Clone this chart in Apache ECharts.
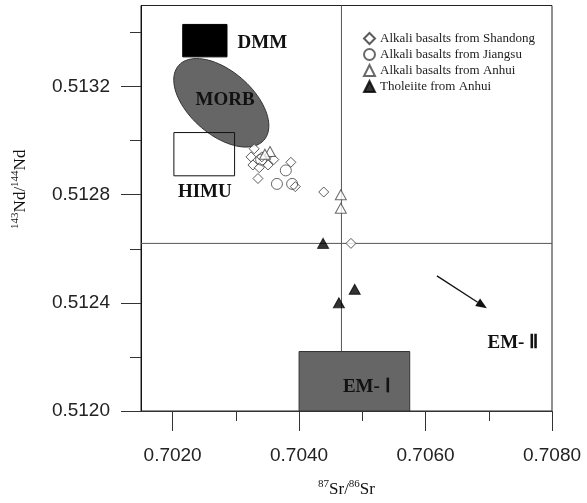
<!DOCTYPE html>
<html><head><meta charset="utf-8">
<script src="https://cdn.jsdelivr.net/npm/echarts@6/dist/echarts.min.js"></script>
<style>html,body{margin:0;padding:0;background:#fff}#c{width:587px;height:503px}</style>
</head><body><div id="c"></div>
<script>
// ---- axis ranges and ticks ----
const xRange = [0.7015, 0.7080];
const yRange = [0.5120, 0.5135];
const xTicksMajor = [0.7020, 0.7040, 0.7060, 0.7080];
const xTicksMinor = [0.7030, 0.7050, 0.7070];
const yTicksMajor = [0.5120, 0.5124, 0.5128, 0.5132];
const yTicksMinor = [0.5122, 0.5126, 0.5130, 0.5134];

// ---- samples [87Sr/86Sr, 143Nd/144Nd] ----
const shandong = [
  [0.70329, 0.51297], [0.70324, 0.51294], [0.70327, 0.51291], [0.70337, 0.51290],
  [0.70351, 0.51291], [0.70360, 0.51293], [0.70335, 0.51286], [0.70387, 0.51292],
  [0.70394, 0.51283], [0.70439, 0.51281], [0.70482, 0.51262], [0.70341, 0.51294]
];
const jiangsu = [[0.70340, 0.51293], [0.70379, 0.51289], [0.70365, 0.51284], [0.70389, 0.51284]];
const anhuiAlkali = [[0.70354, 0.51296], [0.70346, 0.51295], [0.70466, 0.51280], [0.70466, 0.51275]];
const anhuiTholeiite = [[0.70438, 0.51262], [0.70488, 0.51245], [0.70463, 0.51240]];

// ---- reservoir fields ----
const dmmBox = [0.70216, 0.51331, 0.70286, 0.51343];
const himuBox = [0.70202, 0.51287, 0.70298, 0.51303];
const em1Box = [0.70400, 0.51200, 0.70575, 0.51222];
const morbCenter = [0.70277, 0.51314];
const morbMajor = [0.000671, -0.000139];
const morbMinor = [-0.000339, -0.0000865];
const refLineX = 0.70467;
const refLineY = 0.51262;
const arrowEM2 = [0.70618, 0.51250, 0.70697, 0.51238];
const fieldNames = ['DMM', 'MORB', 'HIMU', 'EM- Ⅰ', 'EM- Ⅱ'];
const fieldLabelPos = [[0.70342, 0.51336], [0.70283, 0.51315], [0.70251, 0.51281], [0.70507, 0.51209], [0.70738, 0.51225]];

const seriesNames = ['Alkali basalts from Shandong', 'Alkali basalts from Jiangsu', 'Alkali basalts from Anhui', 'Tholeiite from Anhui'];

const chart = echarts.init(document.getElementById('c'), null, {renderer: 'canvas'});

function boxSeries(box, fill, stroke, z) {
  return {
    type: 'custom', z: z, silent: true,
    data: [box], encode: {x: [0, 2], y: [1, 3]},
    renderItem: function (params, api) {
      const p1 = api.coord([api.value(0), api.value(3)]);
      const p2 = api.coord([api.value(2), api.value(1)]);
      return {type: 'rect', shape: {x: p1[0], y: p1[1], width: p2[0] - p1[0], height: p2[1] - p1[1]},
        style: {fill: fill, stroke: stroke, lineWidth: 1}};
    }
  };
}

const axisColor = '#333';
const labelFont = {fontFamily: 'Liberation Sans', fontSize: 19, color: '#222'};
const serif = 'Liberation Serif';
const nameRich = {
  m: {fontFamily: serif, fontSize: 17, color: '#111', lineHeight: 20, verticalAlign: 'bottom'},
  sup: {fontFamily: serif, fontSize: 11, color: '#111', lineHeight: 20, verticalAlign: 'bottom', padding: [0, 0, 8, 0]}
};

const option = {
  animation: false,
  backgroundColor: '#fff',
  grid: {left: 141, top: 5.5, width: 411, height: 412.5, show: true, borderColor: '#222', borderWidth: 1, backgroundColor: 'transparent'},
  legend: {
    orient: 'vertical', left: 358, top: 27, itemWidth: 11, itemHeight: 11, itemGap: 3,
    data: seriesNames,
    textStyle: {fontFamily: serif, fontSize: 13, lineHeight: 13, color: '#222'}
  },
  xAxis: [
    {type: 'value', min: xRange[0], max: xRange[1], position: 'bottom',
     axisLine: {show: true, onZero: false, lineStyle: {color: axisColor}},
     axisTick: {show: true, length: 20, customValues: xTicksMajor, lineStyle: {color: axisColor}},
     axisLabel: Object.assign({customValues: xTicksMajor, margin: 35, formatter: v => v.toFixed(4)}, labelFont),
     splitLine: {show: false},
     name: '{sup|87}{m|Sr/}{sup|86}{m|Sr}', nameLocation: 'middle', nameGap: 67,
     nameTextStyle: {rich: nameRich}},
    {type: 'value', min: xRange[0], max: xRange[1], position: 'bottom',
     axisLine: {show: false, onZero: false},
     axisTick: {show: true, length: 10, customValues: xTicksMinor, lineStyle: {color: axisColor}},
     axisLabel: {show: false}, splitLine: {show: false}}
  ],
  yAxis: [
    {type: 'value', min: yRange[0], max: yRange[1], position: 'left',
     axisLine: {show: true, onZero: false, lineStyle: {color: '#111'}},
     axisTick: {show: true, length: 20, customValues: yTicksMajor, lineStyle: {color: axisColor}},
     axisLabel: Object.assign({customValues: yTicksMajor, margin: 31, formatter: v => v.toFixed(4)}, labelFont),
     splitLine: {show: false},
     name: '{sup|143}{m|Nd/}{sup|144}{m|Nd}', nameLocation: 'middle', nameGap: 112, nameRotate: 90,
     nameTextStyle: {rich: nameRich, padding: [0, 0, 0, 38]}},
    {type: 'value', min: yRange[0], max: yRange[1], position: 'left',
     axisLine: {show: false, onZero: false},
     axisTick: {show: true, length: 11, customValues: yTicksMinor, lineStyle: {color: axisColor}},
     axisLabel: {show: false}, splitLine: {show: false}}
  ],
  series: [
    { // reference cross lines
      type: 'custom', z: 1, silent: true,
      data: [[refLineX, refLineY]],
      renderItem: function (params, api) {
        const x = api.value(0), y = api.value(1);
        const v1 = api.coord([x, yRange[0]]), v2 = api.coord([x, yRange[1]]);
        const h1 = api.coord([xRange[0], y]), h2 = api.coord([xRange[1], y]);
        return {type: 'group', children: [
          {type: 'line', shape: {x1: v1[0], y1: v1[1], x2: v2[0], y2: v2[1]}, style: {stroke: '#555', lineWidth: 1}},
          {type: 'line', shape: {x1: h1[0], y1: h1[1], x2: h2[0], y2: h2[1]}, style: {stroke: '#555', lineWidth: 1}}
        ]};
      }
    },
    boxSeries(dmmBox, '#000', '#000', 3),
    boxSeries(himuBox, 'rgba(255,255,255,0)', '#111', 3),
    boxSeries(em1Box, '#666', '#333', 3),
    { // MORB ellipse
      type: 'custom', z: 2, silent: true,
      data: [[morbCenter[0], morbCenter[1]]],
      renderItem: function (params, api) {
        const pts = [];
        for (let i = 0; i < 90; i++) {
          const t = i / 90 * Math.PI * 2;
          pts.push(api.coord([
            api.value(0) + Math.cos(t) * morbMajor[0] + Math.sin(t) * morbMinor[0],
            api.value(1) + Math.cos(t) * morbMajor[1] + Math.sin(t) * morbMinor[1]]));
        }
        return {type: 'polygon', shape: {points: pts}, style: {fill: '#666', stroke: '#333', lineWidth: 1}};
      }
    },
    { // EM-II arrow
      type: 'custom', z: 3, silent: true,
      data: [arrowEM2], encode: {x: [0, 2], y: [1, 3]},
      renderItem: function (params, api) {
        const p1 = api.coord([api.value(0), api.value(1)]);
        const p2 = api.coord([api.value(2), api.value(3)]);
        const dx = p2[0] - p1[0], dy = p2[1] - p1[1];
        const L = Math.sqrt(dx * dx + dy * dy), ux = dx / L, uy = dy / L;
        const hl = 11, hw = 4.5;
        const bx = p2[0] - ux * hl, by = p2[1] - uy * hl;
        return {type: 'group', children: [
          {type: 'line', shape: {x1: p1[0], y1: p1[1], x2: bx, y2: by}, style: {stroke: '#111', lineWidth: 1.3}},
          {type: 'polygon', shape: {points: [p2, [bx - uy * hw, by + ux * hw], [bx + uy * hw, by - ux * hw]]}, style: {fill: '#111'}}
        ]};
      }
    },
    { // field labels
      type: 'custom', z: 5, silent: true,
      data: fieldLabelPos,
      renderItem: function (params, api) {
        const p = api.coord([api.value(0), api.value(1)]);
        return {type: 'text', x: p[0], y: p[1], style: {text: fieldNames[params.dataIndex], fontFamily: serif, fontWeight: 'bold',
          fontSize: 19, fill: '#111', align: 'center', verticalAlign: 'middle'}};
      }
    },
    {name: seriesNames[0], type: 'scatter', z: 4, data: shandong, symbol: 'diamond', symbolSize: 10,
     itemStyle: {color: '#fff', borderColor: '#333', borderWidth: 1}},
    {name: seriesNames[1], type: 'scatter', z: 4, data: jiangsu, symbol: 'circle', symbolSize: 11,
     itemStyle: {color: 'rgba(255,255,255,0)', borderColor: '#444', borderWidth: 1}},
    {name: seriesNames[2], type: 'scatter', z: 4, data: anhuiAlkali, symbol: 'triangle', symbolSize: [11, 10],
     itemStyle: {color: '#fff', borderColor: '#444', borderWidth: 1}},
    {name: seriesNames[3], type: 'scatter', z: 4, data: anhuiTholeiite, symbol: 'triangle', symbolSize: [11, 10],
     itemStyle: {color: '#000', borderColor: '#000', borderWidth: 1}}
  ]
};
chart.setOption(option);
</script>
</body></html>
